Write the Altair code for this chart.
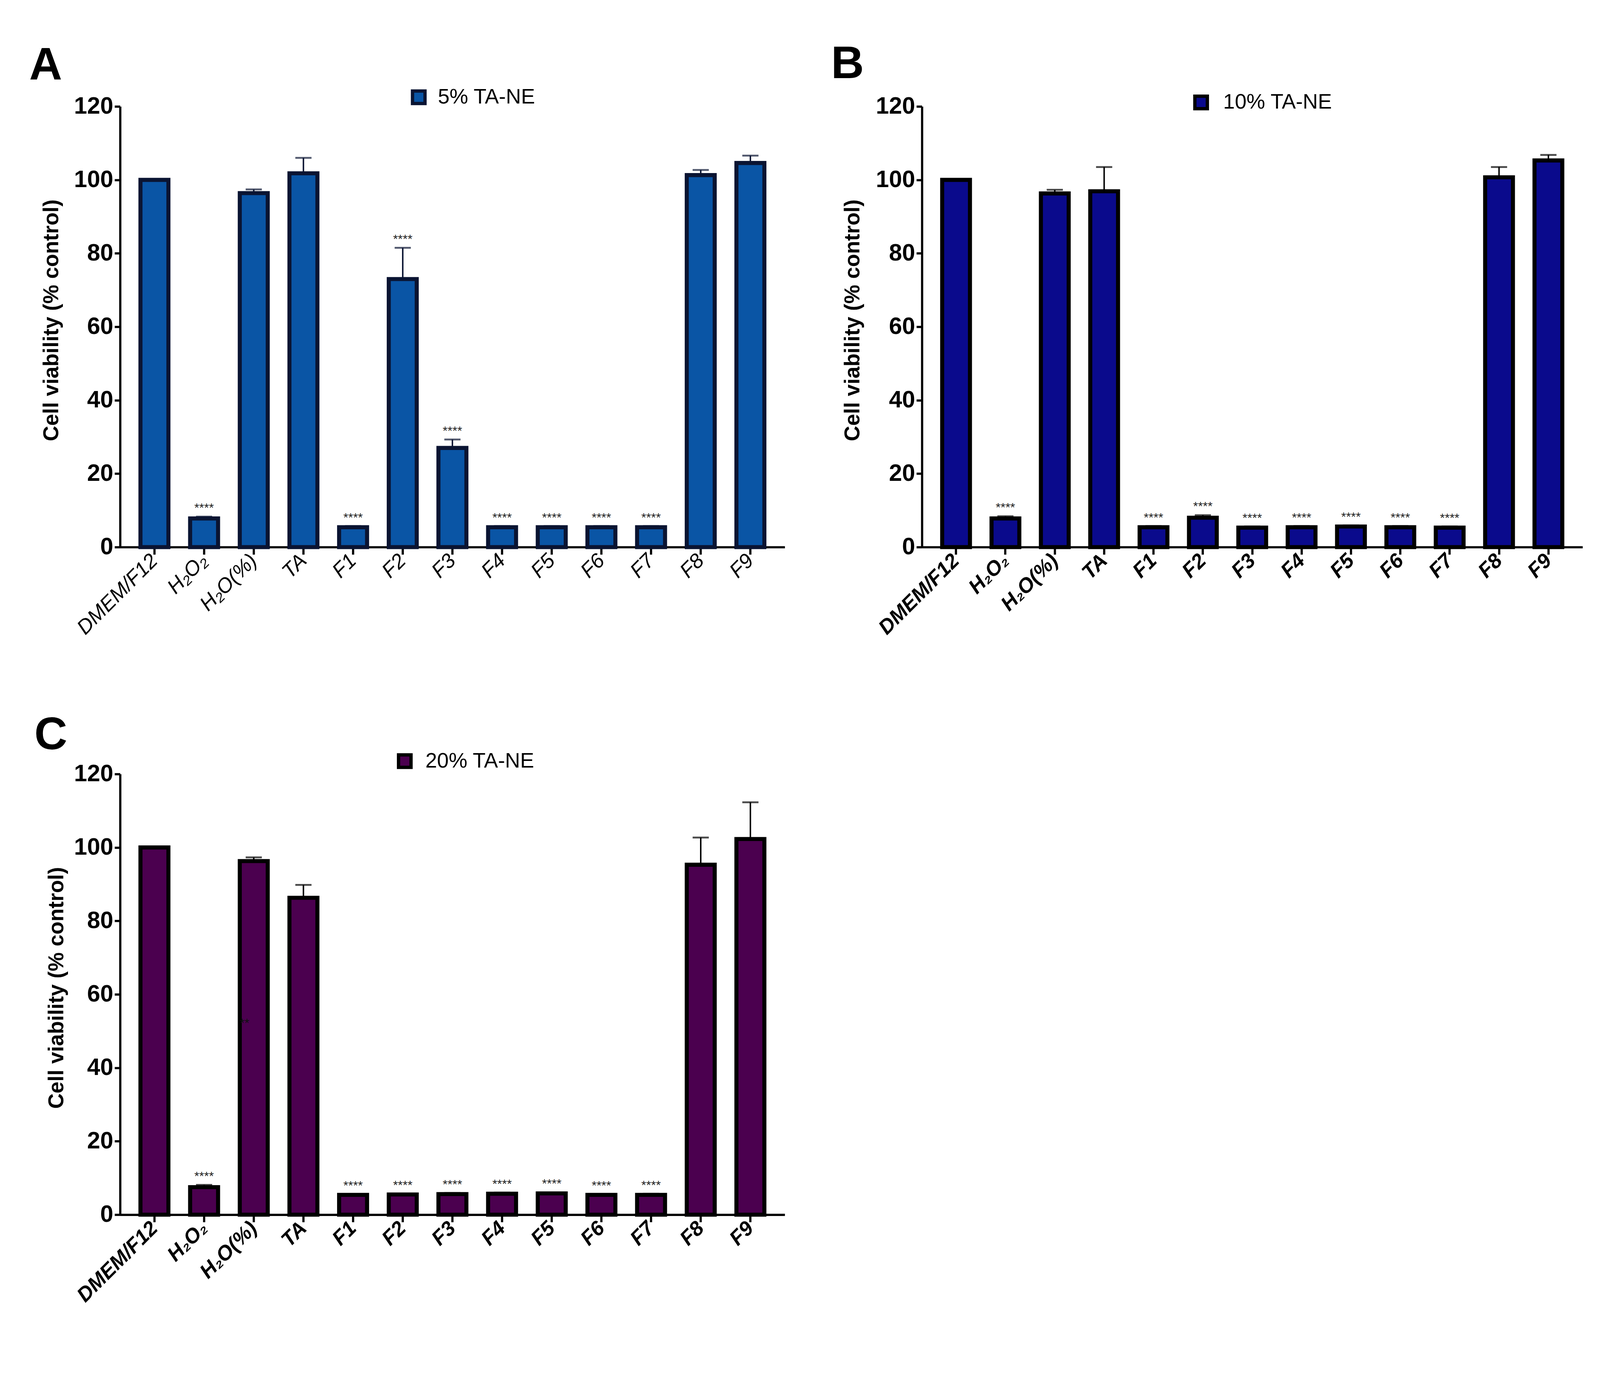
import altair as alt
import pandas as pd

groups = ["DMEM/F12", "H₂O₂", "H₂O(%)", "TA", "F1", "F2", "F3", "F4", "F5", "F6", "F7", "F8", "F9"]

mean_a = [100, 7.8, 96.4, 101.8, 5.4, 73.0, 27.0, 5.4, 5.4, 5.4, 5.4, 101.3, 104.6]
err_a = [0, 0.5, 1.0, 4.2, 0.3, 8.5, 2.3, 0.3, 0.3, 0.3, 0.3, 1.4, 2.0]
sig_a = ["", "****", "", "", "****", "****", "****", "****", "****", "****", "****", "", ""]

mean_b = [100, 7.8, 96.3, 96.9, 5.4, 8.0, 5.3, 5.4, 5.6, 5.4, 5.3, 100.7, 105.3]
err_b = [0, 0.6, 1.0, 6.6, 0.3, 0.7, 0.3, 0.3, 0.3, 0.3, 0.3, 2.8, 1.5]
sig_b = ["", "****", "", "", "****", "****", "****", "****", "****", "****", "****", "", ""]

mean_c = [100, 7.5, 96.3, 86.3, 5.4, 5.5, 5.6, 5.7, 5.8, 5.4, 5.4, 95.3, 102.3]
err_c = [0, 0.6, 1.0, 3.5, 0.2, 0.2, 0.3, 0.3, 0.3, 0.2, 0.3, 7.4, 10.0]
sig_c = ["", "****", "", "", "****", "****", "****", "****", "****", "****", "****", "", ""]

extra_c_group = ["H₂O(%)"]
extra_c_y = [52]
extra_c_text = ["**"]

y_ticks = [0, 20, 40, 60, 80, 100, 120]
FONT = "Liberation Sans"
VW, VH = 4333, 3545   # whole drawing area (page minus 8px margin)
PH = 1198             # panel plot height
DY = -54              # vertical shift of the whole figure


def panel(means, errs, sigs, fill, dark, legend_text, letter, x0, y0, width, label_bold,
          legend_pos, letter_pos, title_x, extra=None):
    y0 = y0 + DY
    df = pd.DataFrame({"group": groups, "mean": means, "err": errs, "sig": sigs})
    df["top"] = df["mean"] + df["err"]

    xaxis = alt.Axis(
        title=None, orient="bottom", offset=(y0 + PH) - VH,
        labelAngle=-45, labelAlign="right", labelBaseline="middle",
        labelFont=FONT, labelFontSize=56, labelFontStyle="italic",
        labelFontWeight="bold" if label_bold else "normal", labelLimit=0,
        labelColor="black", labelPadding=8, tickSize=20, tickWidth=6,
        tickColor="black", domainColor="black", domainWidth=6, labelOverlap=False,
    )
    yaxis = alt.Axis(
        title="Cell viability (% control)", orient="left", offset=-x0, values=y_ticks, grid=False,
        labelFont=FONT, labelFontSize=64, labelFontWeight="bold", labelColor="black",
        labelPadding=4, tickSize=15, tickWidth=6, tickColor="black",
        domainColor="black", domainWidth=6,
        titleFont=FONT, titleFontSize=58, titleFontWeight="bold", titleColor="black",
        titleAngle=270, titleX=title_x, titleY=y0 + 581, titleAlign="center", titleBaseline="middle",
    )
    xscale = alt.Scale(domain=groups, range=[x0, x0 + width], paddingInner=0.437, paddingOuter=0.41)
    yscale = alt.Scale(domain=[0, 120], range=[y0 + PH, y0], nice=False, zero=True)

    def X():
        return alt.X("group:N", scale=xscale, axis=xaxis)

    def Y(f):
        return alt.Y(f, scale=yscale, axis=yaxis)

    base = alt.Chart(df)
    bars = base.mark_bar(fill=fill, stroke=dark, strokeWidth=11).encode(x=X(), y=Y("mean:Q"))
    errdf = base.transform_filter("datum.err > 0")
    rule = errdf.mark_rule(color=dark, strokeWidth=4).encode(x=X(), y=Y("mean:Q"), y2="top:Q")
    cap = errdf.mark_tick(orient="horizontal", size=44, thickness=5, color=dark).encode(
        x=X(), y=Y("top:Q"))
    stars = base.mark_text(font=FONT, fontSize=34, dy=-12, baseline="alphabetic",
                           color="#222222").encode(x=X(), y=Y("top:Q"), text="sig:N")

    layers = [bars, rule, cap, stars]

    if extra is not None:
        edf = pd.DataFrame({"group": extra[0], "top": extra[1], "t": extra[2]})
        layers.append(alt.Chart(edf).mark_text(font=FONT, fontSize=34, dx=-25, baseline="middle",
                                               color="#111111").encode(
            x=X(), y=Y("top:Q"), text="t:N"))

    cx, cy, tx = legend_pos
    cy = cy + DY
    ldf = pd.DataFrame({"t": [legend_text]})
    lrect = alt.Chart(ldf).mark_rect(fill=fill, stroke=dark, strokeWidth=9).encode(
        x=alt.value(cx - 17), x2=alt.value(cx + 17), y=alt.value(cy - 17), y2=alt.value(cy + 17))
    ltext = alt.Chart(ldf).mark_text(font=FONT, fontSize=57, align="left", baseline="middle",
                                     color="black").encode(
        x=alt.value(tx), y=alt.value(cy), text="t:N")

    lx, ly = letter_pos
    ly = ly + DY
    let_df = pd.DataFrame({"t": [letter]})
    lt = alt.Chart(let_df).mark_text(font=FONT, fontSize=124, fontWeight="bold", align="left",
                                     baseline="alphabetic", color="black").encode(
        x=alt.value(lx), y=alt.value(ly), text="t:N")

    return alt.layer(*layers, lrect, ltext, lt)


pa = panel(mean_a, err_a, sig_a, "#0a55a5", "#0a1432", "5% TA-NE", "A",
           318, 225, 1807, False, (1130, 200, 1182), (71, 152), -186)
pb = panel(mean_b, err_b, sig_b, "#0a0a8c", "#000000", "10% TA-NE", "B",
           2498, 225, 1796, True, (3257, 214, 3317), (2251, 148), -188)
pc = panel(mean_c, err_c, sig_c, "#4b004f", "#000000", "20% TA-NE", "C",
           318, 2040, 1807, True, (1092, 2005, 1148), (85, 1973), -172,
           extra=(extra_c_group, extra_c_y, extra_c_text))

chart = (
    alt.layer(pa, pb, pc)
    .resolve_scale(x="independent", y="independent")
    .resolve_axis(x="independent", y="independent")
    .properties(width=VW, height=VH, padding=0, autosize=alt.AutoSizeParams(type="none"))
    .configure_view(stroke=None)
)

chart.save("out.html", embed_options={"renderer": "svg", "actions": False})
